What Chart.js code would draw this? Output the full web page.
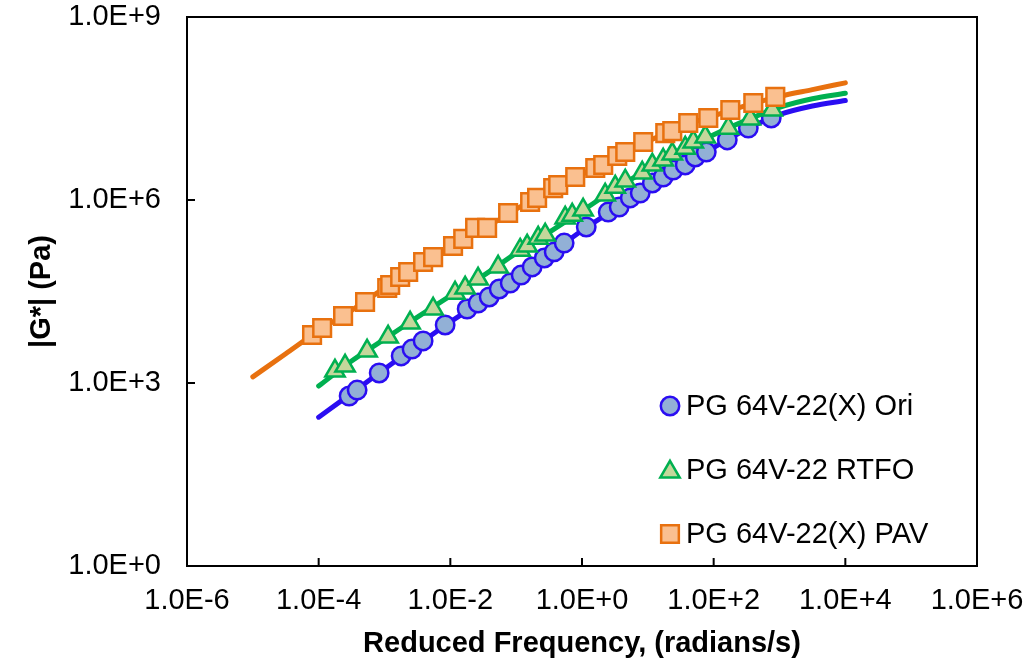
<!DOCTYPE html>
<html>
<head>
<meta charset="utf-8">
<script src="https://cdn.jsdelivr.net/npm/chart.js@4/dist/chart.umd.min.js"></script>
<style>
  html, body { margin: 0; padding: 0; background: #fff; }
  #wrap { width: 1027px; height: 663px; }
</style>
</head>
<body>
<div id="wrap"><canvas id="chart" width="1027" height="663"></canvas></div>
<script>
const oriFreq = [2.9e-4, 3.84e-4, 8.3e-4, 1.79e-3, 2.62e-3, 3.86e-3, 8.34e-3, 1.8e-2, 2.64e-2, 3.89e-2, 5.52e-2, 8.11e-2, 0.119, 0.175, 0.267, 0.378, 0.536, 1.16, 2.5, 3.67, 5.41, 7.66, 11.7, 17.1, 24.3, 37.0, 52.5, 77.3, 161, 336, 750];
const oriG = [612, 767, 1459, 2773, 3606, 4887, 8933, 16330, 20460, 25700, 34750, 43550, 58880, 79800, 1.12e5, 1.41e5, 1.97e5, 3.61e5, 6.35e5, 7.67e5, 1.08e6, 1.30e6, 1.90e6, 2.38e6, 3.10e6, 3.75e6, 5.07e6, 6.12e6, 9.64e6, 1.51e7, 2.21e7];

const rtfoFreq = [1.77e-4, 2.52e-4, 5.44e-4, 1.135e-3, 2.45e-3, 5.48e-3, 1.18e-2, 1.68e-2, 2.64e-2, 5.32e-2, 0.115, 0.147, 0.216, 0.276, 0.556, 0.71, 1.04, 2.25, 3.2, 4.54, 8.22, 11.7, 17.1, 23.5, 37.0, 49.0, 74.5, 167, 360, 778];
const rtfoG = [1574, 1901, 3350, 5675, 9640, 16330, 29850, 36060, 50700, 79800, 1.51e5, 1.76e5, 2.38e5, 2.67e5, 5.07e5, 5.67e5, 6.85e5, 1.21e6, 1.63e6, 2.05e6, 2.77e6, 3.75e6, 4.53e6, 5.68e6, 7.11e6, 8.93e6, 1.08e7, 1.51e7, 2.13e7, 2.99e7];

const pavFreq = [7.94e-5, 1.13e-4, 2.35e-4, 5.07e-4, 1.10e-3, 1.22e-3, 1.73e-3, 2.29e-3, 3.86e-3, 5.48e-3, 1.10e-2, 1.57e-2, 2.38e-2, 3.62e-2, 7.55e-2, 0.163, 0.208, 0.365, 0.435, 0.789, 1.59, 2.10, 3.43, 4.54, 8.51, 18.4, 23.5, 41.1, 82.8, 179, 400, 863];
const pavG = [6120, 7980, 12530, 21280, 36060, 40450, 54700, 66070, 96400, 1.16e5, 1.76e5, 2.30e5, 3.48e5, 3.48e5, 6.12e5, 9.27e5, 1.08e6, 1.57e6, 1.76e6, 2.38e6, 3.35e6, 3.75e6, 5.26e6, 6.12e6, 8.93e6, 1.25e7, 1.35e7, 1.83e7, 2.21e7, 2.99e7, 3.89e7, 4.89e7];

// fitted curves
const fitFreq = [1e-4, 3.16e-4, 1e-3, 3.16e-3, 1e-2, 3.16e-2, 0.1, 0.316, 1, 3.16, 10, 31.6, 100, 316, 1000, 3160, 1e4];
const oriFit = [275, 676, 1698, 4169, 1e4, 22390, 51290, 1.26e5, 3.16e5, 7.08e5, 1.66e6, 3.47e6, 7.24e6, 1.45e7, 2.51e7, 3.47e7, 4.27e7];
const rtfoFit = [891, 2291, 5248, 12020, 26920, 57540, 1.35e5, 2.95e5, 6.61e5, 1.51e6, 3.16e6, 6.31e6, 1.17e7, 2.04e7, 3.31e7, 4.57e7, 5.62e7];
const pavFitFreq = [1e-5, 3.16e-5, 1e-4, 3.16e-4, 1e-3, 3.16e-3, 1e-2, 3.16e-2, 0.1, 0.316, 1, 3.16, 10, 31.6, 100, 316, 1000, 3160, 1e4];
const pavFit = [1259, 3020, 7244, 15490, 36310, 85110, 1.66e5, 3.31e5, 7.08e5, 1.41e6, 2.63e6, 5.13e6, 9.12e6, 1.58e7, 2.40e7, 3.55e7, 5.01e7, 6.46e7, 8.32e7];

const xTicks = [1e-6, 1e-4, 1e-2, 1, 1e2, 1e4, 1e6];
const yTicks = [1, 1e3, 1e6, 1e9];

const labels = ['PG 64V-22(X) Ori', 'PG 64V-22 RTFO', 'PG 64V-22(X) PAV'];

const FONT = 'Liberation Sans, Arial, sans-serif';
const FS = 29;

const toXY = (xs, ys) => xs.map((x, i) => ({ x: x, y: ys[i] }));

const fmtE = (v) => {
  const e = Math.round(Math.log10(v));
  return '1.0E' + (e < 0 ? '-' : '+') + Math.abs(e);
};

const styles = [
  { line: '#2a0df2', fill: '#92b0d6', border: '#2a0df2', point: 'circle', r: 9.2 },
  { line: '#00b050', fill: '#c4d79b', border: '#00b050', point: 'triangle', r: 11.2 },
  { line: '#e8710f', fill: '#fac090', border: '#e8710f', point: 'rect', r: 12.5 }
];

const markerSet = (i, data) => ({
  label: labels[i],
  data: data,
  showLine: false,
  pointStyle: styles[i].point,
  pointRadius: styles[i].r,
  pointBackgroundColor: styles[i].fill,
  pointBorderColor: styles[i].border,
  pointBorderWidth: 2.5,
  order: 10 - i * 4
});

const lineSet = (i, data) => ({
  label: labels[i] + ' fit',
  data: data,
  showLine: true,
  borderColor: styles[i].line,
  borderWidth: 5,
  borderCapStyle: 'round',
  cubicInterpolationMode: 'monotone',
  pointRadius: 0,
  order: 11 - i * 4
});

// box with inward ticks + legend inside the plot
const framePlugin = {
  id: 'frame',
  afterDraw(chart) {
    const ctx = chart.ctx;
    const a = chart.chartArea;
    const xs = chart.scales.x, ys = chart.scales.y;
    ctx.save();
    ctx.strokeStyle = '#000';
    ctx.lineWidth = 2;
    ctx.strokeRect(a.left, a.top, a.right - a.left, a.bottom - a.top);
    ctx.beginPath();
    xTicks.forEach(v => {
      const px = xs.getPixelForValue(v);
      ctx.moveTo(px, a.bottom);
      ctx.lineTo(px, a.bottom - 8);
    });
    yTicks.forEach(v => {
      const py = ys.getPixelForValue(v);
      ctx.moveTo(a.left, py);
      ctx.lineTo(a.left + 8, py);
    });
    ctx.stroke();

    // legend
    const lx = 670, ly0 = 406, dy = 64;
    ctx.font = FS + 'px ' + FONT;
    ctx.textBaseline = 'middle';
    labels.forEach((t, i) => {
      const y = ly0 + i * dy;
      const s = styles[i];
      ctx.lineWidth = 2.5;
      ctx.strokeStyle = s.border;
      ctx.fillStyle = s.fill;
      ctx.beginPath();
      if (s.point === 'circle') {
        ctx.arc(lx, y, s.r, 0, Math.PI * 2);
      } else if (s.point === 'triangle') {
        for (let k = 0; k < 3; k++) {
          const rad = k * 2 * Math.PI / 3;
          const px = lx + Math.sin(rad) * s.r, py = y + 2 - Math.cos(rad) * s.r;
          if (k === 0) ctx.moveTo(px, py); else ctx.lineTo(px, py);
        }
        ctx.closePath();
      } else {
        const h = s.r * Math.SQRT1_2;
        ctx.rect(lx - h, y - h, 2 * h, 2 * h);
      }
      ctx.fill();
      ctx.stroke();
      ctx.fillStyle = '#000';
      ctx.fillText(t, 686, y + 1);
    });
    ctx.restore();
  }
};

new Chart(document.getElementById('chart'), {
  type: 'scatter',
  data: {
    datasets: [
      markerSet(0, toXY(oriFreq, oriG)),
      lineSet(0, toXY(fitFreq, oriFit)),
      markerSet(1, toXY(rtfoFreq, rtfoG)),
      lineSet(1, toXY(fitFreq, rtfoFit)),
      markerSet(2, toXY(pavFreq, pavG)),
      lineSet(2, toXY(pavFitFreq, pavFit))
    ]
  },
  options: {
    responsive: false,
    animation: false,
    layout: { padding: { top: 17, right: 50, left: 0, bottom: 0 } },
    plugins: {
      legend: { display: false },
      tooltip: { enabled: false }
    },
    scales: {
      x: {
        type: 'logarithmic',
        min: 1e-6,
        max: 1e6,
        afterBuildTicks: (s) => { s.ticks = xTicks.map(v => ({ value: v })); },
        afterFit: (s) => { s.height = 97; s.paddingLeft = 0; s.paddingRight = 0; },
        grid: { display: false, drawTicks: false },
        border: { display: false },
        ticks: {
          autoSkip: false,
          maxRotation: 0,
          padding: 18,
          color: '#000',
          font: { family: FONT, size: FS },
          callback: (v) => fmtE(v)
        },
        title: {
          display: true,
          text: 'Reduced Frequency, (radians/s)',
          color: '#000',
          font: { family: FONT, size: FS, weight: 'bold' },
          padding: { top: 0, bottom: 2 }
        }
      },
      y: {
        type: 'logarithmic',
        min: 1,
        max: 1e9,
        afterBuildTicks: (s) => { s.ticks = yTicks.map(v => ({ value: v })); },
        afterFit: (s) => { s.width = 187; s.paddingTop = 0; s.paddingBottom = 0; },
        grid: { display: false, drawTicks: false },
        border: { display: false },
        ticks: {
          autoSkip: false,
          padding: 26,
          color: '#000',
          font: { family: FONT, size: FS },
          callback: (v) => fmtE(v)
        },
        title: {
          display: true,
          text: '|G*| (Pa)',
          color: '#000',
          font: { family: FONT, size: FS, weight: 'bold' },
          padding: { top: 25, bottom: 0 }
        }
      }
    }
  },
  plugins: [framePlugin]
});
</script>
</body>
</html>
